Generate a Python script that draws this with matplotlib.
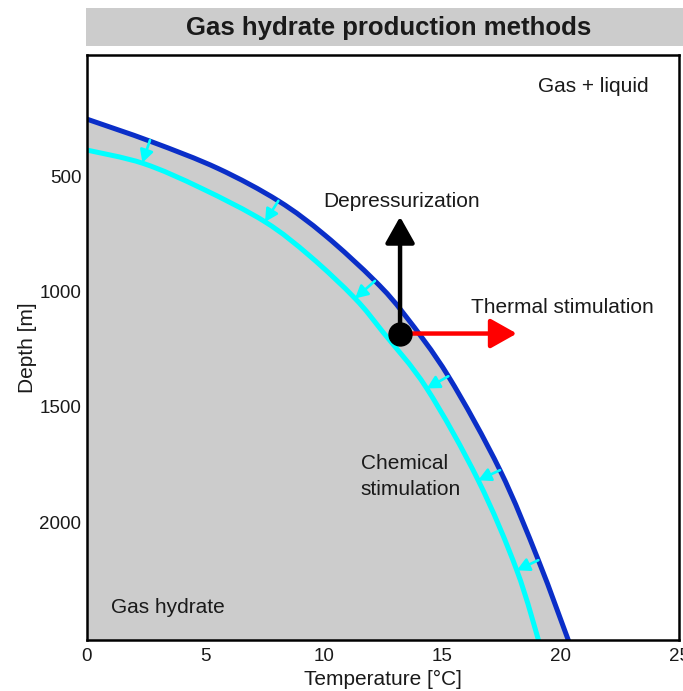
import matplotlib
matplotlib.use("Agg")
import matplotlib.pyplot as plt
import numpy as np
from matplotlib.patches import Rectangle, FancyArrowPatch, PathPatch
from matplotlib.path import Path

plt.rcParams['font.family'] = ['Liberation Sans', 'DejaVu Sans']

# ---- data ----
blue_T = [0.0, 2.73, 5.54, 8.08, 10.05, 12.16, 13.43, 15.26, 17.44, 19.06, 20.43]
blue_d = [253, 351, 467, 607, 756, 954, 1103, 1367, 1774, 2164, 2540]

cyan_T = [0.0, 2.38, 4.84, 7.52, 9.42, 11.32, 12.5, 14.35, 16.52, 18.15, 19.15]
cyan_d = [387, 445, 553, 698, 847, 1030, 1176, 1420, 1818, 2208, 2540]

# small cyan arrows: start (on blue) -> end (on cyan)
shift_T0 = [2.66, 8.08, 12.16, 15.26, 17.44, 19.06]
shift_d0 = [344, 607, 954, 1367, 1774, 2164]
shift_T1 = [2.34, 7.52, 11.32, 14.35, 16.52, 18.15]
shift_d1 = [442, 698, 1030, 1420, 1818, 2208]

point_T, point_d = 13.22, 1182
depress_tip_d = 676
thermal_tip_T = 18.15

x_ticks = [0, 5, 10, 15, 20, 25]
y_ticks = [500, 1000, 1500, 2000]


def smooth_verts(xs, ys):
    """Catmull-Rom curve through the given points, as cubic Bezier segments."""
    p = np.column_stack([xs, ys]).astype(float)
    n = len(p)
    verts = [p[0]]
    codes = [Path.MOVETO]
    for i in range(n - 1):
        a = p[i - 1] if i > 0 else p[i]
        b = p[i + 2] if i + 2 < n else p[i + 1]
        verts += [p[i] + (p[i + 1] - a) / 6, p[i + 1] - (b - p[i]) / 6, p[i + 1]]
        codes += [Path.CURVE4] * 3
    return verts, codes


W, H = 683, 691
fig = plt.figure(figsize=(W / 100, H / 100), dpi=100)

# title box
fig.patches.append(Rectangle((86 / W, 1 - 46 / H), 1 - 86 / W, 38 / H,
                             transform=fig.transFigure, facecolor='#cccccc',
                             edgecolor='none', zorder=0))
fig.text(389 / W, 1 - 28 / H, 'Gas hydrate production methods',
         ha='center', va='center', fontsize=18.5, fontweight='bold', color='#1a1a1a')

ax = fig.add_axes([87 / W, 1 - 640 / H, (679 - 87) / W, (640 - 55) / H])
ax.set_xlim(0, 25)
ax.set_ylim(2510, -25)

# hydrate region (left of / below the blue curve)
bv, bc = smooth_verts(blue_T, blue_d)
fill_verts = bv + [(0, blue_d[-1]), (0, blue_d[0]), (0, blue_d[0])]
fill_codes = bc + [Path.LINETO, Path.LINETO, Path.CLOSEPOLY]
ax.add_patch(PathPatch(Path(fill_verts, fill_codes), facecolor='#cccccc',
                       edgecolor='none', zorder=1))

ax.add_patch(PathPatch(Path(bv, bc), facecolor='none', edgecolor='#0a2ec8',
                       lw=3.6, zorder=3))
cv, cc = smooth_verts(cyan_T, cyan_d)
ax.add_patch(PathPatch(Path(cv, cc), facecolor='none', edgecolor='#00ffff',
                       lw=3.6, zorder=3))

for t0, d0, t1, d1 in zip(shift_T0, shift_d0, shift_T1, shift_d1):
    ax.add_patch(FancyArrowPatch((t0, d0), (t1, d1),
                                 arrowstyle='-|>,head_length=0.75,head_width=0.4',
                                 mutation_scale=10, lw=1.9, color='#00ffff',
                                 shrinkA=0, shrinkB=0, zorder=4))

ax.add_patch(FancyArrowPatch((point_T, point_d), (point_T, depress_tip_d),
                             arrowstyle='-|>,head_length=0.8,head_width=0.45',
                             mutation_scale=20, lw=3.2, color='black',
                             shrinkA=0, shrinkB=0, zorder=5))
ax.add_patch(FancyArrowPatch((point_T, point_d), (thermal_tip_T, point_d),
                             arrowstyle='-|>,head_length=0.8,head_width=0.45',
                             mutation_scale=20, lw=3.2, color='#ff0000',
                             shrinkA=0, shrinkB=0, zorder=5))
ax.plot([point_T], [point_d], 'o', color='black', ms=16.5, zorder=6)

tc = '#1a1a1a'
fs = 15
ax.text(21.4, 113, 'Gas + liquid', ha='center', va='center', fontsize=fs, color=tc)
ax.text(13.3, 611, 'Depressurization', ha='center', va='center', fontsize=fs, color=tc)
ax.text(16.2, 1069, 'Thermal stimulation', ha='left', va='center', fontsize=fs, color=tc)
ax.text(11.55, 1800, 'Chemical\nstimulation', ha='left', va='center', fontsize=fs,
        color=tc, linespacing=1.45)
ax.text(1.0, 2368, 'Gas hydrate', ha='left', va='center', fontsize=fs, color=tc)

ax.set_xticks(x_ticks)
ax.set_yticks(y_ticks)
ax.tick_params(length=0, labelsize=13.5, labelcolor=tc)
ax.tick_params(axis='y', pad=4)
ax.tick_params(axis='x', pad=6)
ax.set_xlabel('Temperature [°C]', fontsize=15, color=tc, labelpad=3)
ax.set_ylabel('Depth [m]', fontsize=15, color=tc, labelpad=2)
for s in ax.spines.values():
    s.set_linewidth(1.8)
    s.set_color('black')
    s.set_zorder(10)

fig.savefig('out.png', dpi=100)
